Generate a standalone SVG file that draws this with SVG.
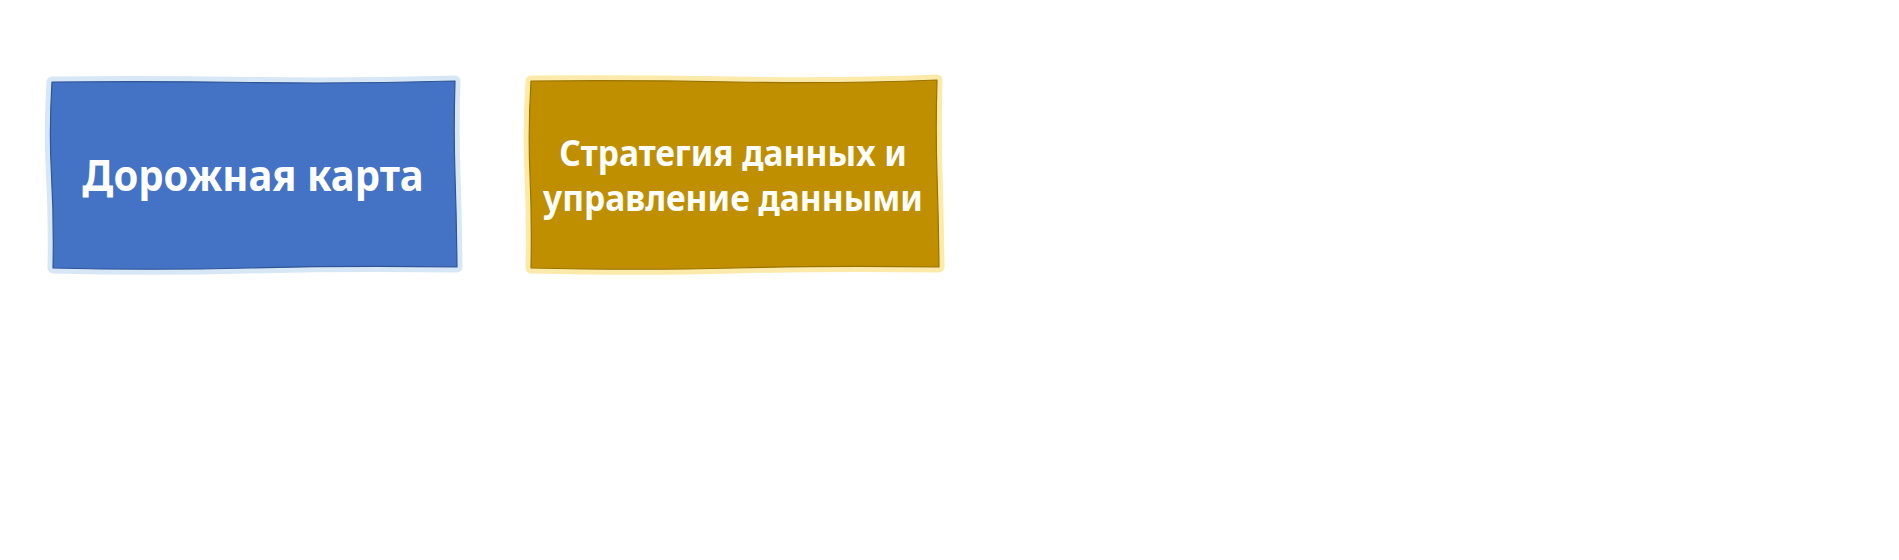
<svg xmlns="http://www.w3.org/2000/svg" width="1899" height="560" viewBox="0 0 1899 560">
<style>
.halo{fill:none;stroke-width:11;stroke-linejoin:round}
.body{stroke-width:1.2;stroke-linejoin:round}
.lbl{font-family:"Noto Sans","Open Sans","DejaVu Sans",sans-serif;font-weight:bold;fill:#ffffff;text-anchor:middle}
</style>
<rect width="1899" height="560" fill="#ffffff"/>
<g id="connectors"></g>
<g id="node-roadmap">
<path class="halo" stroke="#D8E7F6" d="M52,82 Q150,81 250,82.5 T455,81 Q453.5,130 455,175 T457,267 Q350,265.5 250,268 T53,268 Q54,220 51.5,175 T52,82 Z"/>
<path class="body" fill="#4472C4" stroke="#2F5597" d="M52,82 Q150,81 250,82.5 T455,81 Q453.5,130 455,175 T457,267 Q350,265.5 250,268 T53,268 Q54,220 51.5,175 T52,82 Z"/>
<text class="lbl" font-size="40" transform="translate(253,191) scale(1,1.08)">Дорожная карта</text>
</g>
<g id="node-data-strategy">
<path class="halo" stroke="#FCEAAA" d="M531,81 Q630,80 735,82 T937,80 Q935.5,130 937,175 T939,267 Q830,265.5 735,268 T531,268 Q532,220 530,175 T531,81 Z"/>
<path class="body" fill="#BF8F00" stroke="#9A7300" d="M531,81 Q630,80 735,82 T937,80 Q935.5,130 937,175 T939,267 Q830,265.5 735,268 T531,268 Q532,220 530,175 T531,81 Z"/>
<text class="lbl" font-size="33.5" transform="translate(733,166) scale(1,1.08)">Стратегия данных и</text>
<text class="lbl" font-size="33.5" transform="translate(733,211) scale(1,1.08)">управление данными</text>
</g>
</svg>
